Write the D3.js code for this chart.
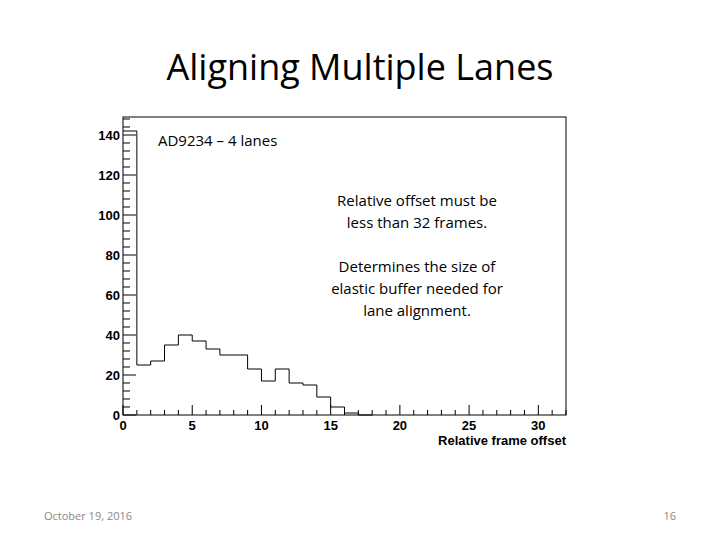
<!DOCTYPE html>
<html><head><meta charset="utf-8">
<script src="https://cdn.jsdelivr.net/npm/d3@7"></script>
<style>body{margin:0;background:#fff}</style>
</head><body>
<script>
// histogram bins (left edge) and counts
var binStarts = [0, 1, 2, 3, 4, 5, 6, 7, 8, 9, 10, 11, 12, 13, 14, 15, 16, 17];
var counts = [142, 25, 27, 35, 40, 37, 33, 30, 30, 23, 17, 23, 16, 15, 9, 4, 1, 0];
var xTicks = [0, 5, 10, 15, 20, 25, 30];
var yTicks = [0, 20, 40, 60, 80, 100, 120, 140];
var notes = [['Relative offset must be', 'less than 32 frames.'],
  ['Determines the size of', 'elastic buffer needed for', 'lane alignment.']];

var svg = d3.select('body').append('svg').attr('width', 720).attr('height', 540);

svg.append('text').attr('x', 360).attr('y', 80).attr('text-anchor', 'middle')
  .style('font-family', 'Open Sans, Liberation Sans').style('font-size', '36px').text('Aligning Multiple Lanes');

var x = d3.scaleLinear().domain([0, 32]).range([123, 566]);
var y = d3.scaleLinear().domain([0, 149]).range([415, 117]);

svg.append('rect').attr('x', 123).attr('y', 117).attr('width', 443).attr('height', 298)
  .attr('fill', 'none').attr('stroke', '#000');

// ticks, drawn inside the frame
svg.append('g').selectAll('line').data(d3.range(0, 33)).enter().append('line')
  .attr('x1', x).attr('x2', x).attr('y1', 415)
  .attr('y2', function (d) { return d % 5 === 0 ? 405 : 410; }).attr('stroke', '#000');
svg.append('g').selectAll('line').data(d3.range(0, 149, 4)).enter().append('line')
  .attr('y1', y).attr('y2', y).attr('x1', 123)
  .attr('x2', function (d) { return d % 20 === 0 ? 136 : 130; }).attr('stroke', '#000');

var fam = 'Liberation Sans, Arial';
svg.append('g').selectAll('text').data(xTicks).enter().append('text')
  .attr('x', x).attr('y', 430).attr('text-anchor', 'middle').text(String)
  .style('font-family', fam).style('font-size', '13px').style('font-weight', 'bold');
svg.append('g').selectAll('text').data(yTicks).enter().append('text')
  .attr('x', 120).attr('y', function (d) { return y(d) + 5; }).attr('text-anchor', 'end').text(String)
  .style('font-family', fam).style('font-size', '13px').style('font-weight', 'bold');
svg.append('text').attr('x', 566).attr('y', 445).attr('text-anchor', 'end').text('Relative frame offset')
  .style('font-family', fam).style('font-size', '13px').style('font-weight', 'bold');

// step outline
var pts = [];
binStarts.forEach(function (b, i) {
  pts.push([x(b), y(counts[i])]);
  pts.push([x(b + 1), y(counts[i])]);
});
svg.append('path').attr('d', d3.line()(pts)).attr('fill', 'none').attr('stroke', '#000');

// overlay text box (covers part of histogram like in the slide)
svg.append('rect').attr('x', 140).attr('y', 125).attr('width', 140).attr('height', 30).attr('fill', '#fff');
svg.append('text').attr('x', 158).attr('y', 146).text('AD9234 – 4 lanes')
  .style('font-family', 'Open Sans, Liberation Sans').style('font-size', '15px');

var ny = 206;
notes.forEach(function (blk) {
  blk.forEach(function (t) {
    svg.append('text').attr('x', 417).attr('y', ny).attr('text-anchor', 'middle').text(t)
      .style('font-family', 'Open Sans, Liberation Sans').style('font-size', '15px');
    ny += 22;
  });
  ny += 22;
});

svg.append('text').attr('x', 44).attr('y', 520).text('October 19, 2016')
  .style('font-family', 'Open Sans, Liberation Sans').style('font-size', '11px').attr('fill', '#888');
svg.append('text').attr('x', 676).attr('y', 520).attr('text-anchor', 'end').text('16')
  .style('font-family', 'Open Sans, Liberation Sans').style('font-size', '11px').attr('fill', '#888');
</script>
</body></html>
